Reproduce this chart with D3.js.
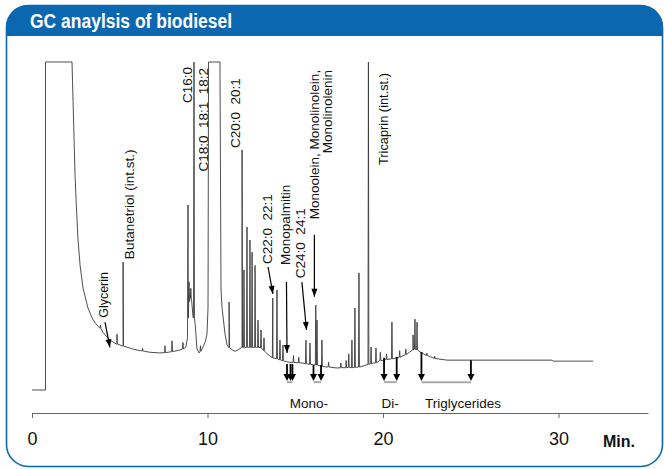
<!DOCTYPE html>
<html><head><meta charset="utf-8">
<script src="https://cdn.jsdelivr.net/npm/d3@7"></script>
<style>body{margin:0;background:#fff} svg{display:block}</style>
</head><body>
<svg id="chart" width="664" height="469"></svg>
<script>
// ---- data (time in min, detector signal in arbitrary units, 100 = full scale) ----
const xTicks = [0, 10, 20, 30];
const baseline = [
  [0,0],[0.77,0],[0.77,100],[2.28,100],[2.31,94],[2.34,88],[2.40,76],[2.45,66],[2.51,58],
  [2.62,46],[2.74,38],[2.91,31],[3.19,25],[3.42,22],[3.59,20.5],[4.05,17.5],[4.44,15.2],
  [4.84,14.0],[5.19,13.4],[5.87,12.3],[6.72,11.5],[7.29,11.3],[7.86,11.6],[8.43,12.2],
  [8.77,13.1],[8.86,16],[8.90,26],[9.02,29],[9.10,27],[9.18,22],[9.30,20],[9.40,12.5],
  [9.52,11.3],[9.69,12.5],[9.86,14.5],[9.97,17],[10.03,25],[10.06,100],[10.71,100],
  [10.77,30.5],[10.83,25],[11.0,17],[11.11,13.8],[11.23,13],[11.40,12.2],[11.57,11.8],
  [11.74,12.2],[11.97,13.0],[12.5,13.0],[12.99,13.0],[13.3,11.5],[13.73,9.8],[14.59,8.5],
  [15.44,8.2],[16.81,7.0],[17.38,6.7],[18.69,7.0],[19.43,8.2],[20.06,9.1],[20.80,9.8],
  [21.25,10.7],[21.71,12.2],[21.88,12.5],[22.11,11.6],[22.85,9.8],[23.65,9.1],[29.63,9.1],
  [29.69,8.8],[31.97,8.8]
];
// peaks: [retention time, base, apex]
const peaks = [
  [3.9,18.8,19.8],[4.84,14.0,17.0],[5.19,13.4,39],[6.3,11.9,12.7],[7.58,11.4,13.5],[7.98,11.7,15],
  [8.6,12.5,14.5],[8.89,22,56.4],[8.95,27,33],[9.05,28,31],[9.23,22,100],[9.6,11.8,13.5],
  [11.23,13,26.8],[11.97,13.0,73.2],[12.08,13.0,36.6],[12.25,13.0,49.7],[12.42,13.0,45.7],
  [12.54,13.0,42],[12.71,13.0,38],[12.88,13.0,21.3],[13.05,12.8,18.3],[13.22,12.0,15.9],
  [13.72,9.8,28],[13.96,9.5,30.5],[14.13,9.2,15.2],[14.30,8.9,13.7],[14.9,8.4,10.5],
  [15.2,8.3,10],[15.61,8.0,15.2],[15.84,7.8,14.3],[16.17,7.6,25.9],[16.24,7.6,21.3],
  [16.52,7.2,15.2],[16.9,7,8.5],[17.6,6.8,8.2],[17.9,6.8,9],[18.05,6.9,11],[18.23,6.8,15.2],
  [18.40,6.9,25],[18.63,7.0,35.7],[19.17,7.8,100],[19.32,8.0,13.1],[19.60,8.3,12.8],
  [19.85,9,11.5],[20.2,9.3,11],[20.51,9.5,20.7],[20.95,10,12],[21.3,10.8,12.5],
  [21.71,12.2,16.8],[21.82,12.4,21.6],[21.94,12.2,20.7],[22.5,10.5,11.2],[22.95,9.6,10.3]
];
// group markers: [time, signal at arrow start]
const groupArrows = [
  [14.53,7.9],[14.73,7.9],[14.84,7.9],[16.04,7.6],[16.47,7.6],
  [20.06,9.8],[20.78,10.1],[22.19,11.6],[25.01,9.1]
];
const groupRanges = [[14.53,14.84],[16.04,16.47],[20.06,20.78],[22.19,25.01]];
const groupNames = ["Mono-", "Di-", "Triglycerides"];
const groupNameTimes = [15.78, 20.40, 24.56];

// peak labels (rotated): text, time, signal, anchor
const peakLabels = [
  ["Glycerin", 4.33, 22.0, "start"],
  ["Butanetriol (int.st.)", 5.81, 39.9, "start"],
  ["C16:0", 9.12, 98.5, "end"],
  ["C18:0\u00a0\u00a018:1\u00a0\u00a018:2", 10.03, 98.2, "end"],
  ["C20:0\u00a0\u00a020:1", 11.88, 73.8, "start"],
  ["C22:0\u00a0\u00a022:1", 13.65, 38.4, "start"],
  ["Monopalmitin", 14.70, 38.1, "start"],
  ["C24:0\u00a0\u00a024:1", 15.56, 34.1, "start"],
  ["Monoolein, Monolinolein,", 16.35, 97.6, "end"],
  ["Monolinolenin", 17.09, 97.6, "end"],
  ["Tricaprin (int.st.)", 20.28, 68.6, "start"]
];
// pointer arrows: [t0, v0, t1, v1]
const pointers = [
  [4.16,20.7,4.44,13.0],
  [13.45,37.5,13.73,29.3],
  [14.50,32.9,14.53,11.3],
  [15.38,32.9,15.64,18.3],
  [16.09,47.3,16.09,28.4]
];

// ---- drawing ----
const svg = d3.select("#chart");
const blue = "#0b68b0";
const x = d3.scaleLinear().domain([0, 35.1]).range([32, 648]);
const y = d3.scaleLinear().domain([0, 100]).range([390, 62]);
const labelSize = {"Glycerin": 12.5, "Tricaprin (int.st.)": 12.8};

const defs = svg.append("defs");
defs.append("clipPath").attr("id","frameClip").append("rect")
  .attr("x",6).attr("y",5).attr("width",657).attr("height",462).attr("rx",22);
svg.append("rect").attr("x",0).attr("y",0).attr("width",664).attr("height",36)
  .attr("fill",blue).attr("clip-path","url(#frameClip)");
svg.append("rect").attr("x",6.5).attr("y",5.5).attr("width",656).attr("height",461)
  .attr("rx",22).attr("fill","none").attr("stroke",blue).attr("stroke-width",1.6);
svg.append("text").attr("x",30).attr("y",28).attr("fill","#fff")
  .attr("font-family","'Liberation Sans Narrow','Arial Narrow','Liberation Sans',Arial,sans-serif")
  .attr("font-weight","bold").attr("font-size",20)
  .attr("textLength",202).attr("lengthAdjust","spacingAndGlyphs")
  .text("GC anaylsis of biodiesel");

// trace
const pts = baseline.map(d => ({t:d[0], v:d[1]}));
peaks.forEach(p => {
  pts.push({t:p[0]-0.025, v:p[1]});
  pts.push({t:p[0], v:p[2]});
  pts.push({t:p[0]+0.025, v:p[1]});
});
const trace = pts.map((d,i)=>({...d,i})).sort((a,b)=> a.t - b.t || a.i - b.i);
const line = d3.line().x(d => x(d.t)).y(d => y(d.v));
svg.append("path").datum(trace).attr("d", line)
  .attr("fill","none").attr("stroke","#3a3a3a").attr("stroke-width",0.9)
  .attr("stroke-linejoin","miter");

// axis
const axis = svg.append("g").attr("transform","translate(0,413)")
  .call(d3.axisBottom(x).tickValues(xTicks).tickSize(5).tickSizeOuter(0).tickPadding(14));
axis.select(".domain").attr("stroke","#666");
axis.selectAll(".tick line").attr("stroke","#666");
axis.selectAll(".tick text").attr("fill","#111")
  .attr("font-family","'Liberation Sans Narrow','Arial Narrow','Liberation Sans',Arial,sans-serif")
  .attr("font-size",18);
svg.append("text").attr("x",603).attr("y",447).attr("fill","#111")
  .attr("font-family","'Liberation Sans','Arial',sans-serif").attr("font-weight","bold")
  .attr("font-size",16).text("Min.");

// group markers
const labelFont = "'Liberation Sans',Arial,sans-serif";
svg.append("g").selectAll("line").data(groupRanges).join("line")
  .attr("x1", d => x(d[0])).attr("x2", d => x(d[1]))
  .attr("y1", y(2.4)).attr("y2", y(2.4)).attr("stroke","#aaa").attr("stroke-width",2);
const ga = svg.append("g").selectAll("g").data(groupArrows).join("g");
ga.append("line").attr("x1", d => x(d[0])).attr("x2", d => x(d[0]))
  .attr("y1", d => y(d[1])).attr("y2", y(2.74) - 6).attr("stroke","#000").attr("stroke-width",1.8);
ga.append("path").attr("d", d => {
  const cx = x(d[0]), ty = y(2.74);
  return `M${cx-3.5},${ty-7}L${cx+3.5},${ty-7}L${cx},${ty}Z`;
}).attr("fill","#000");
svg.append("g").selectAll("text").data(groupNames).join("text")
  .attr("x", (d,i) => x(groupNameTimes[i])).attr("y", y(-5.5))
  .attr("text-anchor","middle").attr("font-family",labelFont).attr("font-size",13.5)
  .attr("fill","#111").text(d => d);

// peak labels
svg.append("g").selectAll("text").data(peakLabels).join("text")
  .attr("transform", d => `translate(${x(d[1])},${y(d[2])}) rotate(-90)`)
  .attr("text-anchor", d => d[3]).attr("font-family",labelFont)
  .attr("font-size", d => labelSize[d[0]] || 13.5)
  .attr("fill","#111").text(d => d[0]);

// pointer arrows
const pa = svg.append("g").selectAll("g").data(pointers).join("g");
pa.append("line").attr("x1", d => x(d[0])).attr("y1", d => y(d[1]))
  .attr("x2", d => x(d[2])).attr("y2", d => y(d[3]))
  .attr("stroke","#000").attr("stroke-width",1.2);
pa.append("path").attr("d", d => {
  const x0 = x(d[0]), y0 = y(d[1]), x1 = x(d[2]), y1 = y(d[3]);
  const a = Math.atan2(y1 - y0, x1 - x0), L = 8, W = 3;
  const bx = x1 - L*Math.cos(a), by = y1 - L*Math.sin(a);
  const px = -Math.sin(a)*W, py = Math.cos(a)*W;
  return `M${x1},${y1}L${bx+px},${by+py}L${bx-px},${by-py}Z`;
}).attr("fill","#000");
</script>
</body></html>
